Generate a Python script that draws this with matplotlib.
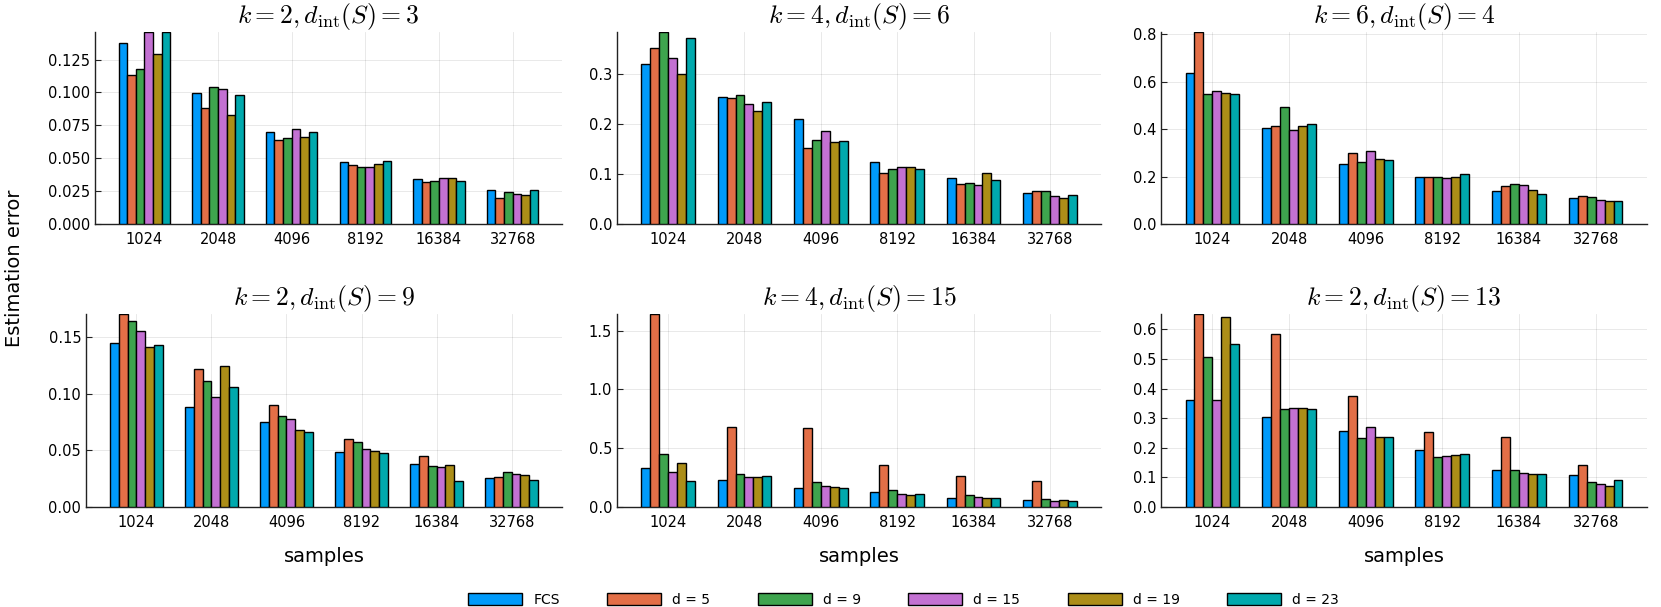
import matplotlib
matplotlib.use("Agg")
import matplotlib.pyplot as plt
from matplotlib.patches import Patch
from matplotlib.ticker import MultipleLocator, FormatStrFormatter
import numpy as np

plt.rcParams['mathtext.fontset'] = 'cm'

# x categories and series
samples = ['1024', '2048', '4096', '8192', '16384', '32768']
series = ['FCS', 'd = 5', 'd = 9', 'd = 15', 'd = 19', 'd = 23']
colors = ['#009AFA', '#E36F47', '#3EA44E', '#C371D2', '#AC8E18', '#00A9AD']

# estimation error, one row per series (FCS, d=5, d=9, d=15, d=19, d=23)
err_k2_d3 = [
    [0.138, 0.0997, 0.0699, 0.047, 0.034, 0.026],
    [0.113, 0.0884, 0.0639, 0.045, 0.032, 0.020],
    [0.1177, 0.1043, 0.0657, 0.043, 0.033, 0.024],
    [0.146, 0.1025, 0.0725, 0.043, 0.035, 0.023],
    [0.1295, 0.0831, 0.0659, 0.046, 0.035, 0.022],
    [0.146, 0.0982, 0.0699, 0.048, 0.033, 0.026],
]
err_k4_d6 = [
    [0.320, 0.255, 0.210, 0.125, 0.093, 0.062],
    [0.352, 0.253, 0.153, 0.103, 0.081, 0.066],
    [0.384, 0.258, 0.168, 0.111, 0.083, 0.066],
    [0.332, 0.241, 0.187, 0.115, 0.079, 0.056],
    [0.301, 0.227, 0.164, 0.115, 0.103, 0.052],
    [0.372, 0.244, 0.166, 0.111, 0.089, 0.058],
]
err_k6_d4 = [
    [0.636, 0.403, 0.253, 0.198, 0.140, 0.109],
    [0.810, 0.413, 0.300, 0.200, 0.160, 0.118],
    [0.549, 0.495, 0.260, 0.200, 0.167, 0.115],
    [0.563, 0.396, 0.309, 0.196, 0.165, 0.102],
    [0.552, 0.412, 0.275, 0.200, 0.143, 0.097],
    [0.549, 0.420, 0.271, 0.213, 0.125, 0.098],
]
err_k2_d9 = [
    [0.1447, 0.0888, 0.0747, 0.0488, 0.0376, 0.0253],
    [0.1706, 0.1218, 0.0903, 0.0600, 0.0450, 0.0268],
    [0.1640, 0.1110, 0.0800, 0.0576, 0.0360, 0.0310],
    [0.1560, 0.0976, 0.0780, 0.0509, 0.0350, 0.0290],
    [0.1410, 0.1250, 0.0680, 0.0494, 0.0370, 0.0280],
    [0.1435, 0.1060, 0.0659, 0.0474, 0.0226, 0.0235],
]
err_k4_d15 = [
    [0.328, 0.226, 0.164, 0.125, 0.076, 0.057],
    [1.642, 0.682, 0.671, 0.354, 0.266, 0.224],
    [0.453, 0.280, 0.212, 0.144, 0.099, 0.071],
    [0.300, 0.255, 0.181, 0.113, 0.085, 0.051],
    [0.374, 0.255, 0.170, 0.102, 0.074, 0.057],
    [0.221, 0.263, 0.161, 0.113, 0.074, 0.051],
]
err_k2_d13 = [
    [0.363, 0.304, 0.256, 0.193, 0.126, 0.107],
    [0.652, 0.583, 0.374, 0.253, 0.235, 0.143],
    [0.507, 0.330, 0.234, 0.168, 0.124, 0.086],
    [0.360, 0.333, 0.271, 0.172, 0.116, 0.077],
    [0.643, 0.333, 0.236, 0.177, 0.113, 0.071],
    [0.550, 0.331, 0.236, 0.178, 0.111, 0.092],
]

panels = [
    (r'$k = 2, d_{\mathrm{int}}(S) = 3$', err_k2_d3, 0.025, '%.3f'),
    (r'$k = 4, d_{\mathrm{int}}(S) = 6$', err_k4_d6, 0.1, '%.1f'),
    (r'$k = 6, d_{\mathrm{int}}(S) = 4$', err_k6_d4, 0.2, '%.1f'),
    (r'$k = 2, d_{\mathrm{int}}(S) = 9$', err_k2_d9, 0.05, '%.2f'),
    (r'$k = 4, d_{\mathrm{int}}(S) = 15$', err_k4_d15, 0.5, '%.1f'),
    (r'$k = 2, d_{\mathrm{int}}(S) = 13$', err_k2_d13, 0.1, '%.1f'),
]

W, H = 1661, 607
fig = plt.figure(figsize=(W / 100, H / 100), dpi=100)

# axes boxes in pixels: left, right, top, bottom
boxes = [
    (95, 562, 32, 224), (617, 1101, 32, 224), (1161, 1647, 32, 224),
    (86, 562, 314, 507), (617, 1101, 314, 507), (1161, 1647, 314, 507),
]

n_ser = len(series)
group_w = 0.7
bw = group_w / n_ser
x = np.arange(1, len(samples) + 1)

for idx, ((title, data, step, fmt), (l, r, t, b)) in enumerate(zip(panels, boxes)):
    ax = fig.add_axes([l / W, 1 - b / H, (r - l) / W, (b - t) / H])
    data = np.array(data)
    for i in range(n_ser):
        ax.bar(x + (i - (n_ser - 1) / 2) * bw, data[i], width=bw,
               color=colors[i], edgecolor='black', linewidth=1.0, zorder=3)
    ax.set_xlim(0.33, 6.67)
    ax.set_ylim(0, data.max())
    ax.set_xticks(x)
    ax.set_xticklabels(samples)
    ax.yaxis.set_major_locator(MultipleLocator(step))
    ax.yaxis.set_major_formatter(FormatStrFormatter(fmt))
    ax.grid(True, color='black', alpha=0.1, linewidth=0.6, zorder=0)
    for s in ['top', 'right']:
        ax.spines[s].set_visible(False)
    for s in ['left', 'bottom']:
        ax.spines[s].set_linewidth(1.0)
        ax.spines[s].set_color('#222222')
    ax.tick_params(axis='both', direction='in', length=4, width=0.8,
                   labelsize=10.5, colors='#222222', labelcolor='black')
    ax.tick_params(axis='x', length=0, pad=6)
    ax.set_title(title, fontsize=18.5, pad=3)
    if idx >= 3:
        fig.text((l + r) / 2 / W, 1 - 556 / H, 'samples', ha='center',
                 va='center', fontsize=14)

fig.text(15 / W, 1 - 268 / H, 'Estimation error', rotation=90,
         ha='center', va='center', fontsize=14)

handles = [Patch(facecolor=c, edgecolor='black', linewidth=1.0) for c in colors]
fig.legend(handles, series, loc='center', bbox_to_anchor=(0.544, 0.012),
           ncol=6, frameon=False, fontsize=10, handlelength=3.9,
           handleheight=1.0, columnspacing=3.4, handletextpad=0.8)

fig.savefig('out.png', dpi=100)
